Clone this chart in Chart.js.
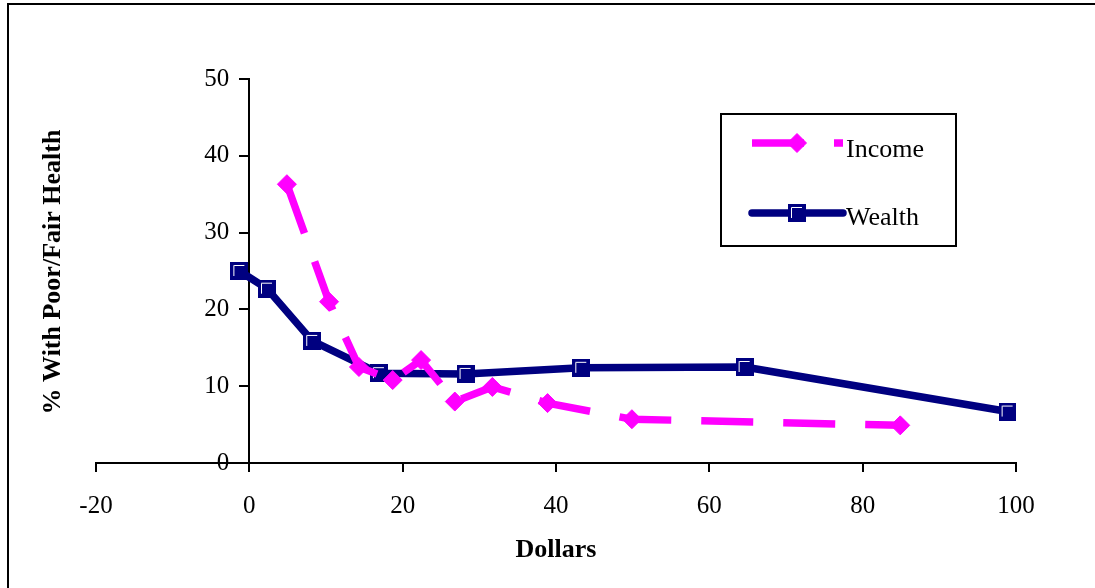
<!DOCTYPE html>
<html>
<head>
<meta charset="utf-8">
<script src="https://cdn.jsdelivr.net/npm/chart.js@4.4.1/dist/chart.umd.min.js"></script>
<style>
  html, body { margin: 0; padding: 0; background: #fff; }
  #wrap { width: 1095px; height: 588px; }
</style>
</head>
<body>
<div id="wrap"><canvas id="chart" width="1095" height="588"></canvas></div>
<script>
// values
const incomeX = [4.9, 10.4, 14.3, 18.7, 22.4, 26.8, 31.7, 38.9, 49.9, 84.9];
const incomeY = [36.3, 21.0, 12.5, 10.8, 13.4, 8.0, 9.9, 7.8, 5.7, 4.9];
const wealthX = [-1.3, 2.3, 8.2, 16.9, 28.2, 43.3, 64.6, 98.9];
const wealthY = [25.0, 22.7, 15.9, 11.7, 11.6, 12.4, 12.5, 6.7];
const seriesNames = ['Income', 'Wealth'];
const xTicks = [-20, 0, 20, 40, 60, 80, 100];
const yTicks = [0, 10, 20, 30, 40, 50];
const xTitle = 'Dollars';
const yTitle = '% With Poor/Fair Health';

const PINK = '#FF00FF';
const NAVY = '#000080';
const FONT = "'Liberation Serif', 'Times New Roman', serif";

// square marker with the little white bevel on top/left
function makeSquare(size) {
    const c = document.createElement('canvas');
    c.width = size;
    c.height = size;
    const g = c.getContext('2d');
    g.fillStyle = NAVY;
    g.fillRect(0, 0, size, size);
    g.strokeStyle = '#fff';
    g.lineWidth = 1;
    g.beginPath();
    g.moveTo(3.5, size - 4);
    g.lineTo(3.5, 3.5);
    g.lineTo(size - 4, 3.5);
    g.stroke();
    return c;
}
const squareMarker = makeSquare(18);

function toPoints(xs, ys) {
    return xs.map((x, i) => ({ x: x, y: ys[i] }));
}

// white page + frame (right/bottom edges run off the picture)
const framePlugin = {
    id: 'frame',
    beforeDraw(chart) {
        const ctx = chart.ctx;
        ctx.save();
        ctx.fillStyle = '#fff';
        ctx.fillRect(0, 0, chart.width, chart.height);
        ctx.strokeStyle = '#000';
        ctx.lineWidth = 2;
        ctx.strokeRect(8, 4, chart.width + 20, chart.height + 20);
        ctx.restore();

        // y axis sits at x = 0, so chart.js puts its labels right on the line;
        // push them left of the tick marks
        const yScale = chart.scales.y;
        const gap = yScale.options.grid.tickLength + yScale.options.ticks.padding;
        yScale.getLabelItems().forEach(item => {
            item.options.translation[0] -= gap;
        });
    },
    afterDraw(chart) {
        // rotated y title, reading bottom to top
        const ctx = chart.ctx;
        ctx.save();
        ctx.translate(60, 272);
        ctx.rotate(-Math.PI / 2);
        ctx.fillStyle = '#000';
        ctx.font = 'bold 26px ' + FONT;
        ctx.textAlign = 'center';
        ctx.textBaseline = 'alphabetic';
        ctx.fillText(yTitle, 0, 0);
        ctx.restore();
    }
};

// boxed legend inside the plot, line sample with marker in the middle
const boxLegend = {
    id: 'boxLegend',
    afterDraw(chart) {
        const ctx = chart.ctx;
        const box = { left: 721, top: 114, right: 956, bottom: 246 };
        const rows = [143, 213];
        const baselines = [157, 225];
        ctx.save();
        ctx.strokeStyle = '#000';
        ctx.lineWidth = 2;
        ctx.strokeRect(box.left, box.top, box.right - box.left, box.bottom - box.top);

        chart.data.datasets.forEach((ds, i) => {
            const y = rows[i];
            ctx.save();
            ctx.strokeStyle = ds.borderColor;
            ctx.lineWidth = ds.borderWidth;
            ctx.lineCap = ds.borderCapStyle || 'butt';
            ctx.setLineDash(ds.borderDash || []);
            ctx.beginPath();
            ctx.moveTo(752, y);
            ctx.lineTo(843, y);
            ctx.stroke();
            ctx.restore();

            ctx.fillStyle = ds.backgroundColor;
            ctx.strokeStyle = ds.borderColor;
            ctx.lineWidth = 1;
            Chart.helpers.drawPoint(ctx, {
                pointStyle: ds.pointStyle,
                radius: ds.pointRadius,
                rotation: 0,
                borderWidth: 1
            }, 797, y);

            ctx.fillStyle = '#000';
            ctx.font = '26px ' + FONT;
            ctx.textAlign = 'left';
            ctx.textBaseline = 'alphabetic';
            ctx.fillText(ds.label, 846, baselines[i]);
        });
        ctx.restore();
    }
};

const ctx = document.getElementById('chart').getContext('2d');

new Chart(ctx, {
    type: 'line',
    data: {
        datasets: [{
            label: seriesNames[0],
            data: toPoints(incomeX, incomeY),
            borderColor: PINK,
            backgroundColor: PINK,
            borderWidth: 7.5,
            borderDash: [52, 30],
            pointStyle: 'rectRot',
            pointRadius: 9.5,
            pointBorderWidth: 1,
            tension: 0,
            fill: false
        }, {
            label: seriesNames[1],
            data: toPoints(wealthX, wealthY),
            borderColor: NAVY,
            backgroundColor: NAVY,
            borderWidth: 7.5,
            borderCapStyle: 'round',
            borderJoinStyle: 'round',
            pointStyle: squareMarker,
            pointRadius: 9,
            tension: 0,
            fill: false
        }]
    },
    options: {
        responsive: false,
        animation: false,
        layout: { padding: { left: 96, top: 79, right: 79, bottom: 0 } },
        plugins: {
            legend: { display: false },
            tooltip: { enabled: false }
        },
        scales: {
            x: {
                type: 'linear',
                position: 'bottom',
                min: xTicks[0],
                max: xTicks[xTicks.length - 1],
                afterBuildTicks: function(scale) {
                    scale.ticks = xTicks.map(v => ({ value: v }));
                },
                afterFit: function(scale) {
                    scale.height = 125;
                },
                grid: { drawOnChartArea: false, drawTicks: true, tickLength: 9, color: '#000', lineWidth: 2 },
                border: { display: true, color: '#000', width: 2 },
                ticks: { color: '#000', font: { family: FONT, size: 25 }, padding: 19, maxRotation: 0 },
                title: {
                    display: true,
                    text: xTitle,
                    color: '#000',
                    font: { family: FONT, size: 26, weight: 'bold' },
                    padding: { top: 0, bottom: 22 }
                }
            },
            y: {
                type: 'linear',
                position: { x: 0 },
                min: yTicks[0],
                max: yTicks[yTicks.length - 1],
                afterBuildTicks: function(scale) {
                    scale.ticks = yTicks.map(v => ({ value: v }));
                },
                grid: { drawOnChartArea: false, drawTicks: true, tickLength: 9, color: '#000', lineWidth: 2 },
                border: { display: true, color: '#000', width: 2 },
                ticks: { color: '#000', font: { family: FONT, size: 25 }, padding: 11 }
            }
        }
    },
    plugins: [framePlugin, boxLegend]
});
</script>
</body>
</html>
